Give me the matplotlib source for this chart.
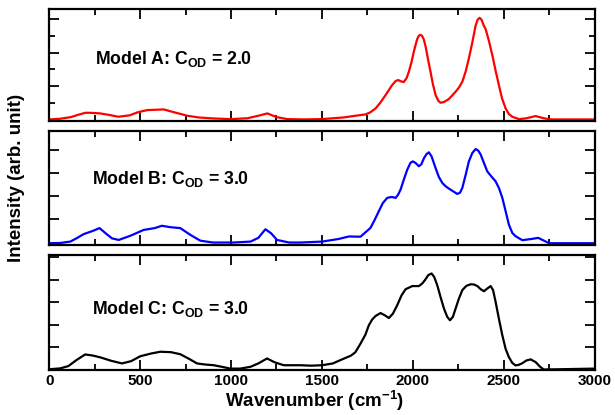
import numpy as np
import matplotlib
matplotlib.use("Agg")
import matplotlib.pyplot as plt
from matplotlib.ticker import MultipleLocator

plt.rcParams['font.family'] = ['Liberation Sans', 'DejaVu Sans']
plt.rcParams['font.weight'] = 'bold'
plt.rcParams['mathtext.fontset'] = 'custom'
plt.rcParams['mathtext.bf'] = 'Liberation Sans:bold'
plt.rcParams['mathtext.rm'] = 'Liberation Sans:bold'
plt.rcParams['mathtext.default'] = 'bf'

# ---------------- data ----------------
wn_a = [0, 60, 120, 160, 200, 240, 280, 330, 380, 440, 490, 540, 585, 630, 690,
        760, 820, 900, 1000, 1090, 1150, 1200, 1250, 1310, 1400, 1500, 1620, 1684,
        1739, 1765, 1795, 1822, 1850, 1886, 1905, 1919, 1935, 1950, 1965, 1978,
        1992, 2005, 2015, 2024, 2033, 2042, 2051, 2060, 2070, 2083, 2097, 2110,
        2125, 2140, 2152, 2170, 2198, 2235, 2254, 2272, 2290, 2308, 2327, 2345,
        2356, 2367, 2378, 2390, 2400, 2418, 2437, 2455, 2473, 2490, 2510, 2528,
        2547, 2583, 2620, 2675, 2720, 2760, 2850, 3000]
int_a = [0.08, 0.12, 0.22, 0.36, 0.48, 0.47, 0.44, 0.35, 0.24, 0.32, 0.52, 0.64,
         0.66, 0.68, 0.50, 0.30, 0.20, 0.14, 0.10, 0.15, 0.30, 0.44, 0.22, 0.10,
         0.08, 0.10, 0.20, 0.30, 0.38, 0.50, 0.74, 1.10, 1.54, 2.14, 2.38, 2.44,
         2.36, 2.32, 2.55, 2.94, 3.50, 4.13, 4.55, 4.90, 5.10, 5.15, 5.08, 4.88,
         4.45, 3.70, 2.94, 2.20, 1.54, 1.20, 1.08, 1.12, 1.30, 1.74, 2.00, 2.34,
         2.94, 3.74, 4.70, 5.70, 6.05, 6.17, 6.05, 5.70, 5.50, 4.80, 3.93, 3.00,
         2.14, 1.35, 0.74, 0.40, 0.24, 0.10, 0.14, 0.28, 0.15, 0.08, 0.08, 0.08]

wn_b = [0, 60, 116, 150, 189, 240, 277, 310, 345, 382, 446, 519, 580, 620, 666,
        721, 776, 831, 900, 1015, 1107, 1150, 1189, 1220, 1253, 1320, 1382, 1501,
        1590, 1648, 1712, 1767, 1791, 1813, 1835, 1859, 1883, 1905, 1919, 1932,
        1950, 1969, 1987, 2000, 2015, 2033, 2047, 2061, 2075, 2088, 2103, 2125,
        2143, 2162, 2180, 2198, 2222, 2244, 2259, 2272, 2290, 2308, 2327, 2345,
        2360, 2373, 2391, 2409, 2431, 2455, 2473, 2492, 2510, 2528, 2547, 2565,
        2602, 2650, 2690, 2749, 2850, 3000]
int_b = [0.07, 0.08, 0.14, 0.28, 0.46, 0.60, 0.72, 0.50, 0.28, 0.21, 0.39, 0.64,
         0.72, 0.82, 0.76, 0.72, 0.43, 0.18, 0.10, 0.10, 0.14, 0.30, 0.67, 0.50,
         0.21, 0.10, 0.10, 0.14, 0.25, 0.36, 0.35, 0.73, 1.09, 1.45, 1.80, 2.02,
         2.06, 2.02, 2.16, 2.37, 2.80, 3.23, 3.53, 3.59, 3.52, 3.38, 3.47, 3.73,
         3.90, 3.98, 3.80, 3.30, 2.92, 2.66, 2.52, 2.42, 2.30, 2.19, 2.24, 2.45,
         3.00, 3.59, 3.95, 4.12, 4.05, 3.88, 3.52, 3.16, 2.95, 2.73, 2.45, 2.02,
         1.45, 0.87, 0.51, 0.37, 0.20, 0.25, 0.30, 0.07, 0.07, 0.07]

wn_c = [0, 60, 105, 150, 198, 240, 281, 340, 400, 450, 501, 560, 611, 670, 721,
        770, 813, 860, 905, 950, 996, 1050, 1107, 1150, 1198, 1240, 1290, 1382,
        1440, 1501, 1560, 1602, 1660, 1684, 1712, 1739, 1758, 1776, 1795, 1822,
        1846, 1868, 1890, 1914, 1938, 1960, 1997, 2033, 2051, 2066, 2085, 2103,
        2117, 2134, 2152, 2171, 2189, 2204, 2220, 2235, 2253, 2272, 2294, 2318,
        2336, 2355, 2373, 2391, 2409, 2428, 2441, 2455, 2473, 2492, 2510, 2528,
        2547, 2565, 2583, 2602, 2624, 2648, 2675, 2700, 2720, 2800, 3000]
int_c = [0.04, 0.08, 0.18, 0.45, 0.70, 0.65, 0.57, 0.42, 0.30, 0.40, 0.62, 0.74,
         0.82, 0.80, 0.71, 0.50, 0.30, 0.25, 0.22, 0.15, 0.07, 0.07, 0.15, 0.30,
         0.52, 0.35, 0.22, 0.22, 0.20, 0.22, 0.30, 0.45, 0.65, 0.80, 1.18, 1.58,
         2.00, 2.25, 2.41, 2.54, 2.44, 2.32, 2.51, 2.89, 3.33, 3.60, 3.74, 3.74,
         3.85, 4.00, 4.23, 4.30, 4.15, 3.78, 3.26, 2.74, 2.37, 2.22, 2.37, 2.74,
         3.18, 3.56, 3.75, 3.82, 3.81, 3.74, 3.60, 3.51, 3.63, 3.74, 3.56, 3.04,
         2.29, 1.55, 0.95, 0.58, 0.32, 0.21, 0.24, 0.31, 0.43, 0.48, 0.36, 0.15,
         0.03, 0.04, 0.07]

labels = [r'Model A: $C_{OD}$ = 2.0', r'Model B: $C_{OD}$ = 3.0',
          r'Model C: $C_{OD}$ = 3.0']
colors = ['#ff0000', '#0000ff', '#000000']
xticks = [0, 500, 1000, 1500, 2000, 2500, 3000]

# ---------------- figure ----------------
fig = plt.figure(figsize=(6.15, 4.15), dpi=100)
L, W = 0.080, 0.887
rects = [[L, 0.709, W, 0.269], [L, 0.410, W, 0.274], [L, 0.108, W, 0.278]]
ylims = [(0, 6.69), (0, 4.89), (0, 5.13)]
yt_major = [np.arange(2, 7, 2) + 0.08, np.arange(1, 5) + 0.1, np.arange(1, 6) + 0.03]
yt_minor = [np.arange(1, 6, 2) + 0.08, [], []]
text_pos = [(0.084, 0.505), (0.079, 0.532), (0.079, 0.484)]

series = [(wn_a, int_a), (wn_b, int_b), (wn_c, int_c)]
for i, (rect, (x, y)) in enumerate(zip(rects, series)):
    ax = fig.add_axes(rect)
    ax.plot(x, y, color=colors[i], lw=1.6, solid_joinstyle='round')
    ax.set_xlim(0, 3000)
    ax.set_ylim(*ylims[i])
    ax.set_xticks(xticks)
    ax.xaxis.set_minor_locator(MultipleLocator(250))
    ax.set_yticks(yt_major[i])
    ax.set_yticks(yt_minor[i], minor=True)
    ax.tick_params(which='both', direction='in', top=True, right=True,
                   width=1.3, labelleft=False)
    ax.tick_params(which='major', length=7)
    ax.tick_params(which='minor', length=4)
    ax.tick_params(axis='x', labelsize=11, pad=3)
    if i < 2:
        ax.tick_params(axis='x', labelbottom=False)
    for s in ax.spines.values():
        s.set_linewidth(1.6)
    ax.text(text_pos[i][0], text_pos[i][1], labels[i], transform=ax.transAxes,
            fontsize=12.7, fontweight='bold', ha='left', va='baseline')
    for lab in ax.get_xticklabels():
        lab.set_fontweight('bold')

fig.text(315 / 615, 1 - 407 / 415, r'Wavenumber (cm$^{-1}$)', fontsize=13.5,
         fontweight='bold', ha='center', va='baseline')
fig.text(17 / 615, 1 - 178 / 415, 'Intensity (arb. unit)', fontsize=13.5,
         fontweight='bold', ha='center', va='center', rotation=90)

fig.savefig('out.png', dpi=100)
